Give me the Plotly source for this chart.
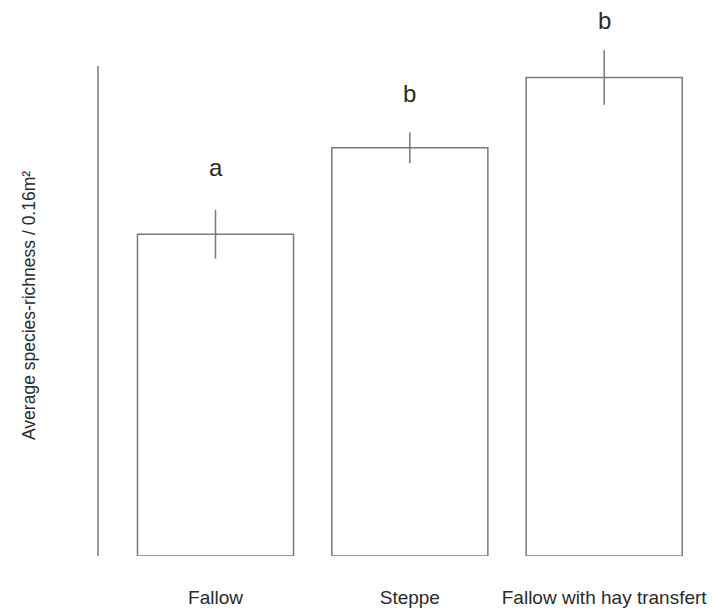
import plotly.graph_objects as go

# Mean species richness per 0.16 m² quadrat, with standard errors
habitats = ["Fallow", "Steppe", "Fallow with hay transfert"]
mean_richness = [7.88, 10.0, 11.72]
std_error = [0.60, 0.38, 0.67]
group_letters = ["a", "b", "b"]

line_grey = "#7a7a7a"
text_grey = "#2a2a2a"
axis_top = 12  # the drawn y axis line stops at this value

fig = go.Figure(
    go.Bar(
        x=habitats,
        y=mean_richness,
        width=0.803,
        marker=dict(color="white", line=dict(color=line_grey, width=1.5)),
        error_y=dict(
            type="data",
            array=std_error,
            symmetric=True,
            width=0,
            thickness=1.5,
            color=line_grey,
        ),
    )
)

# Significance letters above each bar, lifted clear of the error bar
letter_lift = [27, 23, 14]
for name, m, e, letter, lift in zip(habitats, mean_richness, std_error,
                                    group_letters, letter_lift):
    fig.add_annotation(
        x=name, y=m + e, xref="x", yref="y",
        text=letter, showarrow=False,
        yanchor="bottom", yshift=lift,
        font=dict(family="Liberation Sans, Arial", size=24, color=text_grey),
    )

# Vertical axis line, drawn from 0 up to axis_top only
fig.add_shape(
    type="line", xref="paper", yref="y",
    x0=0, x1=0, y0=0, y1=axis_top,
    line=dict(color=line_grey, width=1.5),
)

fig.add_annotation(
    xref="paper", yref="paper", x=0, y=0.5,
    xshift=-69, yshift=-28,
    text="Average species-richness / 0.16m²",
    textangle=-90, showarrow=False,
    xanchor="center", yanchor="middle",
    font=dict(family="Liberation Sans, Arial", size=17.5, color=text_grey),
)

fig.update_layout(
    width=713, height=611,
    margin=dict(l=98, r=0, t=0, b=55),
    paper_bgcolor="white", plot_bgcolor="white",
    showlegend=False,
    xaxis=dict(
        range=[-0.6046, 2.56],
        showline=False, showgrid=False, zeroline=False,
        ticks="", ticklabelstandoff=28,
        tickfont=dict(family="Liberation Sans, Arial", size=19, color=text_grey),
    ),
    yaxis=dict(
        range=[0, 13.616],
        showline=False, showgrid=False, zeroline=False,
        ticks="", showticklabels=False,
    ),
)

fig.write_html("out.html")
